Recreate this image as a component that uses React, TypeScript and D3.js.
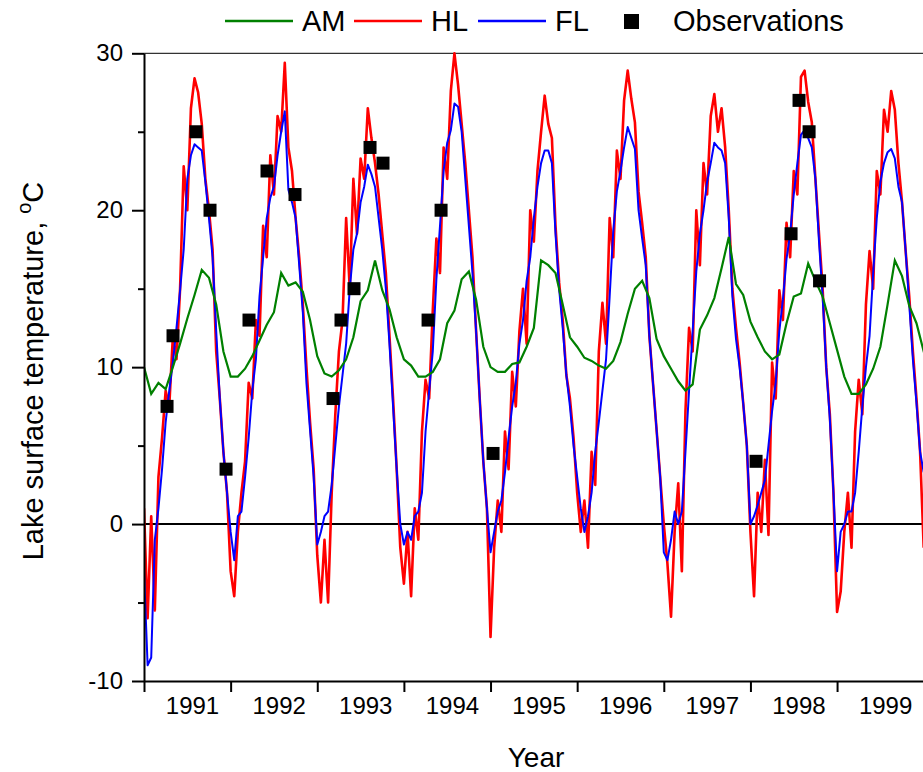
import React, { useEffect, useRef } from 'react';
import * as d3 from 'd3';

const W = 923;
const H = 772;

const years = [1991, 1992, 1993, 1994, 1995, 1996, 1997, 1998, 1999];
const yTicks = [-10, 0, 10, 20, 30];
const yMinorTicks = [-5, 5, 15, 25];

// AM: monthly values, starting January 1991
const amMonthly = [
  10.0, 8.3, 9.0, 8.6, 10.0, 11.5, 13.1, 14.6, 16.2, 15.7, 14.0, 11.0,
  9.4, 9.4, 9.9, 10.7, 11.7, 12.7, 13.5, 16.0, 15.2, 15.4, 14.8, 13.0,
  10.7, 9.6, 9.4, 9.8, 10.5, 11.9, 14.2, 14.9, 16.8, 14.9, 13.7, 11.9,
  10.5, 10.1, 9.4, 9.4, 9.7, 10.5, 12.8, 13.6, 15.6, 16.1, 14.3, 11.3,
  10.0, 9.7, 9.7, 10.2, 10.3, 11.3, 12.5, 16.8, 16.5, 16.0, 14.0, 11.9,
  11.3, 10.6, 10.4, 10.1, 9.9, 10.4, 11.6, 13.4, 15.0, 15.5, 14.4, 11.8,
  10.7, 9.9, 9.1, 8.5, 8.9, 12.4, 13.3, 14.4, 16.3, 18.3, 15.3, 14.6,
  12.9, 11.9, 11.0, 10.5, 10.8, 12.8, 14.5, 14.7, 16.6, 15.5, 14.5, 12.8,
  11.1, 9.4, 8.3, 8.3, 8.9, 9.9, 11.3, 14.0, 16.8, 15.8, 13.9, 12.8,
  11.0, 9.5,
];

// HL: half-monthly values, starting January 1991
const hlValues = [
  1, -6, 0.5, -5.5, 3, 5.5, 8.5, 7.5, 12, 10.5, 15, 22.8, 20, 26.5, 28.4, 27.5, 25.5, 22, 20, 17.5, 11, 8, 4.6, 2,
  -3, -4.6, -0.5, 2, 4, 9, 8, 13, 12, 19, 17, 23.5, 21, 26, 25, 29.4, 24, 22.5, 19.5, 17, 14, 10, 6.5, 3.5,
  -2, -5, -1, -5, 2, 7, 11, 13, 19.5, 15, 22, 18.5, 23.3, 22, 26.5, 24.6, 23, 21, 18.5, 16, 12, 8, 3.5, -1.5,
  -3.8, -0.5, -4.6, 1, -1, 5.9, 9.2, 8, 13.6, 18.2, 16, 24, 22, 27.6, 30, 28, 25.5, 23, 20, 17, 12.3, 8, 4, 1,
  -7.2, -1.5, 1.5, -0.5, 5.9, 3.5, 9.7, 7.5, 12.3, 15, 11.5, 20, 18, 22.5, 25, 27.3, 25.5, 24.6, 19, 15.4, 13, 9.5, 8, 5.5,
  2, -0.5, 1.5, -1.5, 4.6, 2.5, 11, 14.1, 11.5, 19.5, 17, 23.8, 22, 27, 28.9, 27.1, 25.6, 21.2, 19.2, 17, 12, 9, 6, 3,
  0, -2.5, -5.9, -0.5, 2.6, -3, 7.2, 12.5, 11, 20, 16.5, 23, 21, 26, 27.4, 25, 26.5, 24, 20, 15, 12.5, 10.3, 7.7, 5,
  -0.5, -4.6, 2, -0.5, 4.1, -0.7, 10.3, 8, 14.9, 13, 19.2, 17, 22.5, 21, 28.5, 28.9, 26.9, 25.6, 22, 18.5, 15, 10, 7, 2,
  -5.6, -4.3, -0.5, 2, -1.5, 5.9, 9.2, 7, 14, 17.4, 15, 22.5, 21, 26.4, 25, 27.6, 26.4, 23, 20.5, 17.4, 14.5, 11, 8, 4.6,
  -1.5,
];

// FL: half-monthly values, starting January 1991
const flValues = [
  -3, -9, -8.5, -1, 1, 3.5, 6.5, 8.5, 10.3, 12.5, 14.9, 17.5, 22, 23.5, 24.2, 24, 23.8, 21.8, 19.5, 17, 12.3, 8, 4.6, 2,
  -0.5, -2.3, 0.5, 0.8, 3, 5.5, 8.5, 10.5, 14.5, 17, 19.5, 20.8, 21.5, 23.5, 25, 26.3, 21.3, 20.5, 19.5, 16.5, 13.5, 9, 6, 3,
  -1.3, -0.5, 0.5, 0.8, 2.5, 5, 7.5, 9.5, 11.5, 15, 17.5, 18.5, 20.5, 21.5, 22.9, 22.3, 21.5, 19.5, 17.5, 15, 11.5, 7.5, 3.5, 0,
  -1.3, -0.5, -1, 0.5, 0.8, 2, 5.9, 8.5, 11, 15.6, 19, 22.5, 24.3, 25.1, 26.8, 26.6, 25, 22, 19, 16, 12.3, 8, 4, 1,
  -1.8, -0.5, 0.8, 1.5, 3.3, 5.5, 7.5, 9, 11.5, 13, 15.5, 17, 19.5, 21.5, 23, 23.8, 23.8, 23, 18.5, 15, 12.5, 9.5, 7.5, 5,
  3, 1, -0.5, 0.5, 2, 4.6, 6.5, 8.5, 10.5, 14.5, 18.7, 21.2, 22.5, 24, 25.3, 24.6, 23.9, 20, 18.2, 16.5, 12, 9, 6, 3,
  -1.8, -2.3, -1, 0.8, 0, 0.8, 4.6, 8.5, 12.3, 16.1, 18.5, 20, 21.8, 23, 24.3, 24, 23.8, 23, 19.5, 14.5, 11.8, 10, 7.7, 5,
  0, 0.5, 1.2, 2, 2.8, 5, 7.2, 9, 12.3, 14.3, 16.9, 18.5, 21, 23, 24.8, 25.1, 24.6, 24, 22, 18, 14.5, 10, 6.7, 2,
  -3, -0.5, 0, 0.8, 0.8, 2, 4.6, 7.5, 10, 12, 16, 19.5, 21.8, 23, 23.7, 23.9, 23.3, 21.5, 20.5, 17.4, 14, 10.5, 7.7, 4.6,
  3.3,
];

// Observations (decimal year, temperature)
const obsTimes = [
  1991.266, 1991.335, 1991.6, 1991.762, 1991.947, 1992.212, 1992.42, 1992.743,
  1993.182, 1993.274, 1993.424, 1993.609, 1993.759, 1994.279, 1994.429, 1995.029,
  1998.065, 1998.469, 1998.561, 1998.677, 1998.798,
];
const obsValues = [
  7.5, 12, 25, 20, 3.5, 13, 22.5, 21,
  8, 13, 15, 24, 23, 13, 20, 4.5,
  4, 18.5, 27, 25, 15.5,
];

const FONT = "'Liberation Sans', Arial, Helvetica, sans-serif";

export default function App() {
  const ref = useRef<SVGSVGElement>(null);

  useEffect(() => {
    const svg = d3.select(ref.current);
    svg.selectAll('*').remove();

    const left = 144, right = 923.7, top = 53.3, bottom = 681;

    const x = d3.scaleLinear().domain([1991, 2000]).range([left, right]);
    const y = d3.scaleLinear().domain([-10, 30]).range([bottom, top]);

    svg.append('rect').attr('width', W).attr('height', H).attr('fill', '#fff');

    svg.append('defs').append('clipPath').attr('id', 'plot-clip')
      .append('rect')
      .attr('x', left).attr('y', top - 4)
      .attr('width', right - left).attr('height', bottom - top + 4);

    // top frame line
    svg.append('line')
      .attr('x1', left).attr('x2', right)
      .attr('y1', top).attr('y2', top)
      .attr('stroke', '#333').attr('stroke-width', 1.2);

    // zero line
    svg.append('line')
      .attr('x1', left).attr('x2', right)
      .attr('y1', y(0)).attr('y2', y(0))
      .attr('stroke', '#000').attr('stroke-width', 2);

    const plot = svg.append('g').attr('clip-path', 'url(#plot-clip)');

    const halfMonthLine = d3.line<number>()
      .x((d, i) => x(1991 + i / 24))
      .y((d) => y(d));

    const monthLine = d3.line<number>()
      .x((d, i) => x(1991 + i / 12))
      .y((d) => y(d));

    plot.append('path').datum(hlValues)
      .attr('d', halfMonthLine)
      .attr('fill', 'none').attr('stroke', '#ff0000').attr('stroke-width', 2.6)
      .attr('stroke-linejoin', 'round');

    plot.append('path').datum(flValues)
      .attr('d', halfMonthLine)
      .attr('fill', 'none').attr('stroke', '#0000ff').attr('stroke-width', 2)
      .attr('stroke-linejoin', 'round');

    plot.append('path').datum(amMonthly)
      .attr('d', monthLine)
      .attr('fill', 'none').attr('stroke', '#008000').attr('stroke-width', 2.2);

    const sq = 13;
    plot.selectAll('rect.obs')
      .data(obsTimes)
      .enter()
      .append('rect')
      .attr('class', 'obs')
      .attr('x', (d) => x(d) - sq / 2)
      .attr('y', (d, i) => y(obsValues[i]) - sq / 2)
      .attr('width', sq).attr('height', sq)
      .attr('fill', '#000');

    // y axis
    const yAxis = svg.append('g').attr('transform', `translate(${left},0)`)
      .call(d3.axisLeft(y).tickValues(yTicks).tickSize(12).tickSizeOuter(0).tickPadding(9)
        .tickFormat((d) => String(d)));
    yAxis.select('.domain').attr('stroke-width', 2);
    yAxis.selectAll('.tick line').attr('stroke-width', 2);
    yAxis.selectAll('.tick text')
      .attr('font-family', FONT).attr('font-size', 24).attr('fill', '#000');

    const yMinor = svg.append('g').attr('transform', `translate(${left},0)`)
      .call(d3.axisLeft(y).tickValues(yMinorTicks).tickSize(6).tickSizeOuter(0).tickFormat(() => ''));
    yMinor.select('.domain').remove();
    yMinor.selectAll('.tick line').attr('stroke-width', 2);

    // x axis
    const xAxis = svg.append('g').attr('transform', `translate(0,${bottom})`)
      .call(d3.axisBottom(x).tickValues(years).tickSize(11).tickSizeOuter(0).tickFormat(() => ''));
    xAxis.select('.domain').attr('stroke-width', 2);
    xAxis.selectAll('.tick line').attr('stroke-width', 2);

    svg.append('g').selectAll('text')
      .data(years)
      .enter()
      .append('text')
      .attr('x', (d) => x(d + 0.56))
      .attr('y', 714)
      .attr('text-anchor', 'middle')
      .attr('font-family', FONT).attr('font-size', 24)
      .text((d) => String(d));

    // axis titles
    svg.append('text')
      .attr('x', 536).attr('y', 767)
      .attr('text-anchor', 'middle')
      .attr('font-family', FONT).attr('font-size', 28)
      .text('Year');

    const yTitle = svg.append('text')
      .attr('transform', 'translate(43,371) rotate(-90)')
      .attr('text-anchor', 'middle')
      .attr('font-family', FONT).attr('font-size', 29);
    yTitle.append('tspan').text('Lake surface temperature, ');
    yTitle.append('tspan').attr('font-size', 20).attr('dy', -12).text('o');
    yTitle.append('tspan').attr('dy', 12).text('C');

    // legend
    const legend = svg.append('g').attr('font-family', FONT).attr('font-size', 29);
    const legendLines = [
      { x1: 225, x2: 293, color: '#008000', label: 'AM', tx: 302 },
      { x1: 354, x2: 422, color: '#ff0000', label: 'HL', tx: 431 },
      { x1: 478, x2: 546, color: '#0000ff', label: 'FL', tx: 555 },
    ];
    legendLines.forEach((l) => {
      legend.append('line')
        .attr('x1', l.x1).attr('x2', l.x2).attr('y1', 21).attr('y2', 21)
        .attr('stroke', l.color).attr('stroke-width', 2.5);
      legend.append('text').attr('x', l.tx).attr('y', 31).text(l.label);
    });
    legend.append('rect')
      .attr('x', 624).attr('y', 14).attr('width', 15).attr('height', 15)
      .attr('fill', '#000');
    legend.append('text').attr('x', 673).attr('y', 31).text('Observations');
  }, []);

  return (
    <svg
      ref={ref}
      width={W}
      height={H}
      style={{ position: 'absolute', left: 0, top: 0, display: 'block' }}
    ></svg>
  );
}
